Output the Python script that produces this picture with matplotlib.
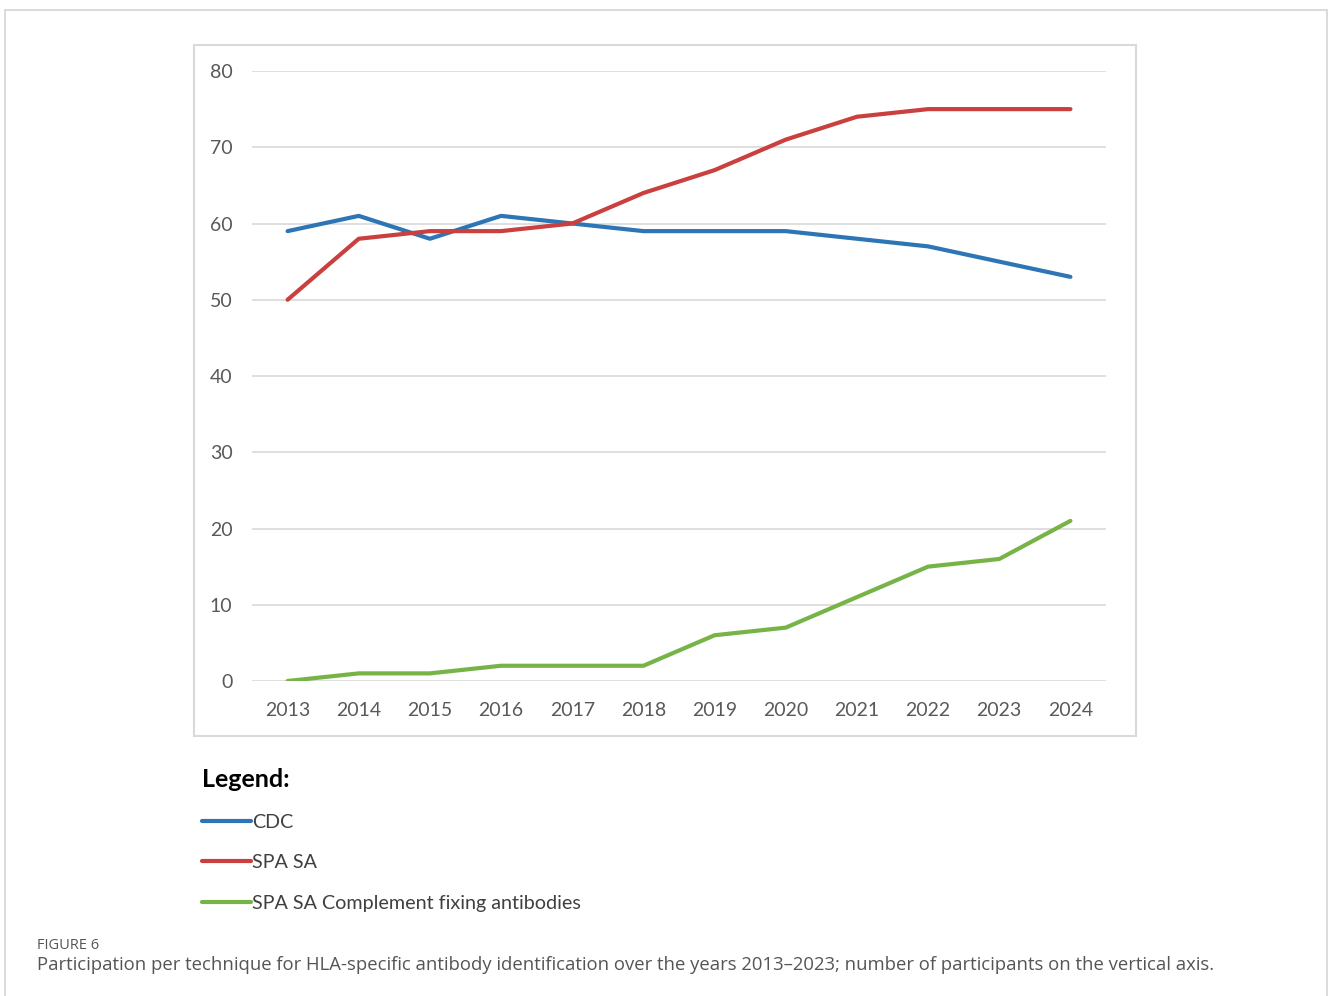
import matplotlib
matplotlib.use("Agg")
import matplotlib.pyplot as plt
from matplotlib.patches import Rectangle

years = [2013, 2014, 2015, 2016, 2017, 2018, 2019, 2020, 2021, 2022, 2023, 2024]
cdc = [59, 61, 58, 61, 60, 59, 59, 59, 58, 57, 55, 53]
spa_sa = [50, 58, 59, 59, 60, 64, 67, 71, 74, 75, 75, 75]
spa_sa_cf = [0, 1, 1, 2, 2, 2, 6, 7, 11, 15, 16, 21]
yticks = [0, 10, 20, 30, 40, 50, 60, 70, 80]
labels = ["CDC", "SPA SA", "SPA SA Complement fixing antibodies"]
colors = ["#2E75B6", "#C9403E", "#77B347"]

W, H = 1328, 996
fig = plt.figure(figsize=(W / 100, H / 100), dpi=100)
fig.patch.set_facecolor("white")

def fx(px):
    return px / W

def fy(py):
    return 1 - py / H

# outer frame and chart box
fig.patches.append(Rectangle((fx(5), fy(1000)), fx(1322), 990 / H, transform=fig.transFigure,
                             fill=False, edgecolor="#d4d4d4", linewidth=1.2))
fig.patches.append(Rectangle((fx(194), fy(736)), fx(942), 691 / H, transform=fig.transFigure,
                             fill=False, edgecolor="#d9d9d9", linewidth=1.5))

ax = fig.add_axes([fx(252), fy(681), fx(854), 610 / H])
series = [cdc, spa_sa, spa_sa_cf]
for vals, lab, c in zip(series, labels, colors):
    ax.plot(years, vals, color=c, linewidth=3.0, label=lab, solid_capstyle="round",
            solid_joinstyle="round")

ax.set_xlim(2012.5, 2024.5)
ax.set_ylim(0, 80)
ax.set_yticks(yticks)
ax.set_xticks(years)
ax.set_xticklabels([str(y) for y in years])
ax.grid(axis="y", color="#d9d9d9", linewidth=1.2)
ax.set_axisbelow(True)
for s in ax.spines.values():
    s.set_visible(False)
ax.tick_params(length=0, labelsize=14, labelcolor="#595959")
ax.tick_params(axis="y", pad=14)
ax.tick_params(axis="x", pad=15)
for t in ax.get_xticklabels() + ax.get_yticklabels():
    t.set_family("Lato")

leg = fig.legend(loc="upper left", bbox_to_anchor=(fx(184), fy(750)), frameon=False,
                 title="Legend:", alignment="left", handlelength=2.5, handletextpad=0.05,
                 labelspacing=1.18, prop={"family": "Lato", "size": 14.2},
                 title_fontproperties={"family": "Lato", "size": 18, "weight": "bold"})
for t in leg.get_texts():
    t.set_color("#404040")

fig.text(fx(37), fy(945), "FIGURE 6", fontsize=10.5, color="#555555", family="Open Sans",
         va="center", ha="left")
fig.text(fx(37), fy(965),
         "Participation per technique for HLA-specific antibody identification over the years "
         "2013\u20132023; number of participants on the vertical axis.",
         fontsize=13.3, color="#555555", family="Open Sans", va="center", ha="left")

fig.savefig("out.png", dpi=100)
